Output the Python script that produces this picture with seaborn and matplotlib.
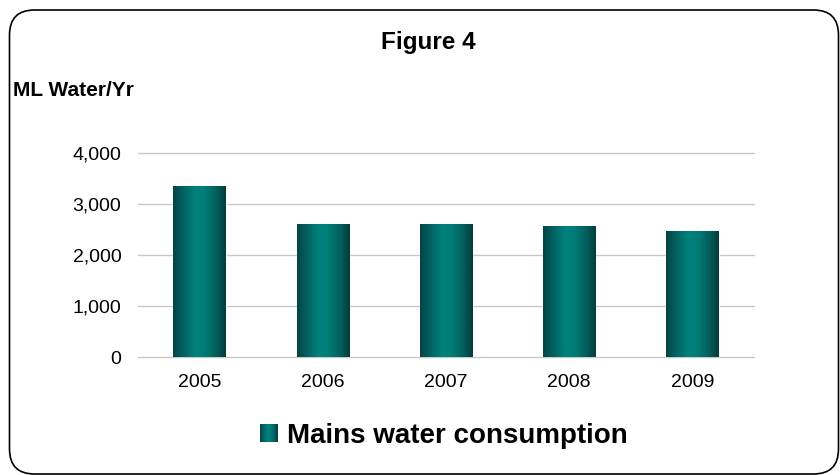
import numpy as np
import pandas as pd
import matplotlib
matplotlib.use("Agg")
import matplotlib.pyplot as plt
from matplotlib.colors import LinearSegmentedColormap
from matplotlib.patches import FancyBboxPatch, Patch
import seaborn as sns

years = ["2005", "2006", "2007", "2008", "2009"]
consumption = [3350, 2610, 2610, 2570, 2470]
series_name = "Mains water consumption"
y_ticks = [0, 1000, 2000, 3000, 4000]
y_tick_labels = ["0", "1,000", "2,000", "3,000", "4,000"]

sns.set_theme(style="white")
plt.rcParams["font.family"] = ["Liberation Sans", "DejaVu Sans"]
plt.rcParams["text.color"] = "black"

df = pd.DataFrame({"Year": years, "Consumption": consumption})

fig = plt.figure(figsize=(8.4, 4.75), dpi=100)
fig.patch.set_facecolor("white")
ax = fig.add_axes([138 / 840, 1 - 357 / 475, (754 - 138) / 840, (357 - 153) / 475])

sns.barplot(data=df, x="Year", y="Consumption", color="#02706b", width=0.425,
            ax=ax, saturation=1)

cmap = LinearSegmentedColormap.from_list(
    "tealgrad",
    [(0.0, "#044444"), (0.18, "#036060"), (0.42, "#00827c"), (0.6, "#017c77"),
     (0.82, "#035e5c"), (1.0, "#033c3c")])
grad = np.linspace(0, 1, 256).reshape(1, -1)

ax.set_ylim(0, 4000)
ax.set_xlim(-0.5, len(years) - 0.5)
for p in list(ax.patches):
    x0, y0 = p.get_x(), p.get_y()
    w, h = p.get_width(), p.get_height()
    im = ax.imshow(grad, cmap=cmap, aspect="auto", extent=(x0, x0 + w, y0, y0 + h),
                   zorder=3, interpolation="bilinear")
    im.set_clip_path(p)
    p.set_zorder(2)
ax.set_ylim(0, 4000)
ax.set_xlim(-0.5, len(years) - 0.5)

ax.set_yticks(y_ticks)
ax.set_yticklabels(y_tick_labels)
ax.yaxis.grid(True, color="#c8c8c8", linewidth=1.0)
for gl in ax.yaxis.get_gridlines():
    gl.set_clip_on(False)
ax.set_axisbelow(True)
for s in ax.spines.values():
    s.set_visible(False)
ax.tick_params(axis="y", length=0, pad=12, labelsize=14, colors="black")
ax.tick_params(axis="x", length=0, pad=12, labelsize=14, colors="black")
ax.set_xlabel("")
ax.set_ylabel("")
ax.set_facecolor("white")

fig.text(428 / 840, 1 - 42 / 475, "Figure 4", ha="center", va="center",
         fontsize=17.5, fontweight="bold", color="black")
fig.text(13 / 840, 1 - 90 / 475, "ML Water/Yr", ha="left", va="center",
         fontsize=15, fontweight="bold", color="black")

handle = Patch(facecolor="#02706b", edgecolor="none")
leg = fig.legend([handle], [series_name], loc="center",
                 bbox_to_anchor=(443.5 / 840, 1 - 436 / 475), frameon=False,
                 prop={"size": 20, "weight": "bold"}, handlelength=0.62,
                 handleheight=0.62, handletextpad=0.36, borderpad=0,
                 labelcolor="black")

fig.canvas.draw()
hb = leg.legend_handles[0].get_window_extent()
inv = fig.transFigure.inverted()
(fx0, fy0), (fx1, fy1) = inv.transform([(hb.x0, hb.y0), (hb.x1, hb.y1)])
hax = fig.add_axes([fx0, fy0, fx1 - fx0, fy1 - fy0])
hax.imshow(grad, cmap=cmap, aspect="auto", interpolation="bilinear")
hax.axis("off")
hax.set_zorder(10)

frame = FancyBboxPatch((0.095, 0.01), 8.29, 4.64,
                       boxstyle="round,pad=0,rounding_size=0.25",
                       transform=fig.dpi_scale_trans, facecolor="none",
                       edgecolor="black", linewidth=1.2)
fig.patches.append(frame)

fig.savefig("out.png", dpi=100, facecolor="white")
